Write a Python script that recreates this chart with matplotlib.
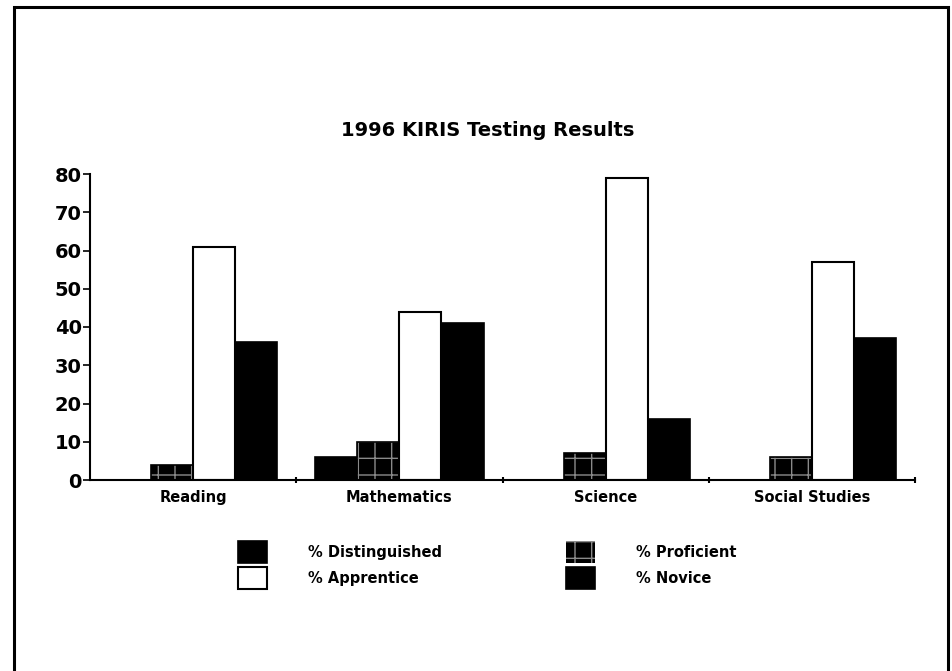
import matplotlib.pyplot as plt
from matplotlib.patches import Rectangle
import numpy as np

# Data
subjects = ['Reading', 'Mathematics', 'Science', 'Social Studies']
distinguished = [0, 6, 0, 0]
proficient = [4, 10, 7, 6]
apprentice = [61, 44, 79, 57]
novice = [36, 41, 16, 37]
y_ticks = [0, 10, 20, 30, 40, 50, 60, 70, 80]

plt.rcParams['font.family'] = ['DejaVu Sans']
plt.rcParams['font.weight'] = 'bold'
plt.rcParams['hatch.linewidth'] = 1.0

fig = plt.figure(figsize=(9.52, 6.71), dpi=100)
ax = fig.add_axes([90/952, 1-480/671, (915-90)/952, (480-174)/671])

x = np.arange(len(subjects))
w = 0.204

#Draw the four series side by side.
b1 = ax.bar(x - 1.5*w, distinguished, w, color='black', edgecolor='black', linewidth=1.2)
b2 = ax.bar(x - 0.5*w, proficient, w, color='black', edgecolor='#8a8a8a', hatch='+', linewidth=0)
ax.bar(x - 0.5*w, proficient, w, fill=False, edgecolor='black', linewidth=1.2)
b3 = ax.bar(x + 0.5*w, apprentice, w, color='white', edgecolor='black', linewidth=1.5)
b4 = ax.bar(x + 1.5*w, novice, w, color='black', edgecolor='black', linewidth=1.2)

ax.set_xlim(-0.5, 3.5)
ax.set_ylim(0, 80)
ax.set_yticks(y_ticks)
ax.set_yticklabels([str(t) for t in y_ticks], fontsize=14, fontweight='bold')
ax.set_xticks(x)
ax.set_xticklabels(subjects, fontsize=10.5, fontweight='bold')
ax.set_xticks([0.5, 1.5, 2.5, 3.5], minor=True)
ax.tick_params(axis='x', which='major', length=0, pad=7)
ax.tick_params(axis='x', which='minor', length=4, direction='inout', width=1.5)
ax.tick_params(axis='y', length=5, width=1.2, pad=1)

for side in ['top', 'right']:
    ax.spines[side].set_visible(False)
for side in ['left', 'bottom']:
    ax.spines[side].set_linewidth(1.5)

fig.text(488/952, 1-130/671, '1996 KIRIS Testing Results', ha='center', va='center',
         fontsize=14, fontweight='bold')

#Legend in two columns below the axes.
leg = fig.legend([b1, b3, b2, b4],
                 ['% Distinguished', '% Apprentice', '% Proficient', '% Novice'],
                 ncol=2, loc='upper left', bbox_to_anchor=(225/952, 1-528/671),
                 frameon=False, fontsize=10.5, handlelength=2.0, handleheight=1.9,
                 handletextpad=2.8, columnspacing=8.5, labelspacing=0.3)
for t in leg.get_texts():
    t.set_fontweight('bold')

#Outer frame around the whole figure.
fig.patches.append(Rectangle((14/952, -0.05), (948-14)/952, 1.05-7/671,
                             transform=fig.transFigure, fill=False,
                             edgecolor='black', linewidth=2.2))

fig.savefig('out.png', dpi=100)
